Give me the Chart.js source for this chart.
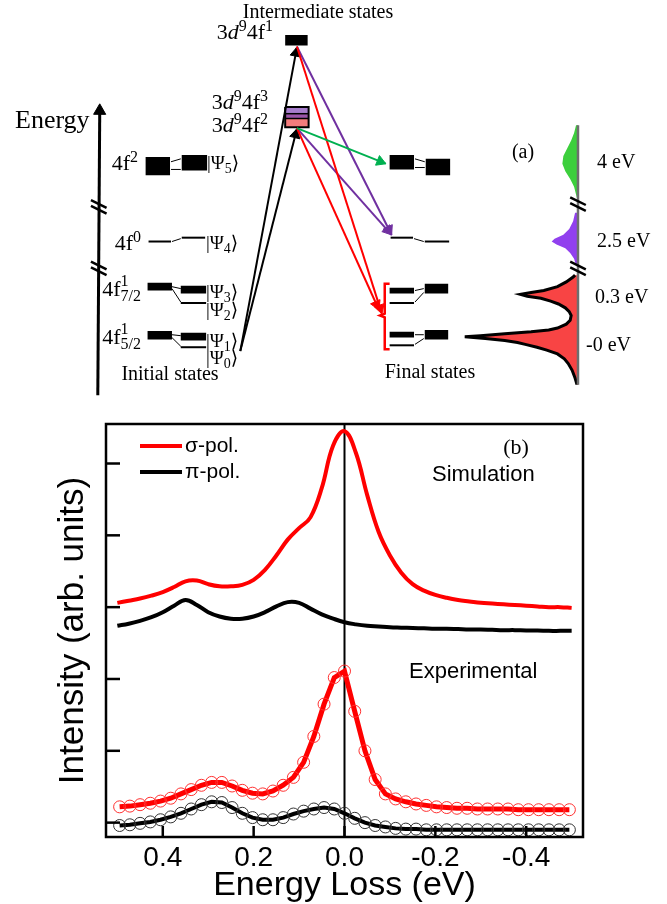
<!DOCTYPE html>
<html>
<head>
<meta charset="utf-8">
<script src="https://cdn.jsdelivr.net/npm/chart.js@4.4.0/dist/chart.umd.min.js"></script>
<style>
html, body { margin: 0; padding: 0; background: #fff; }
#wrap { position: relative; width: 667px; height: 904px; }
#diagram { position: absolute; left: 0; top: 0; }
#spectra { position: absolute; left: 0; top: 410px; }
</style>
</head>
<body>
<div id="wrap">
  <canvas id="diagram" width="667" height="410"></canvas>
  <canvas id="spectra" width="667" height="494"></canvas>
</div>
<script>
// ---------- panel (b): RIXS spectra ----------
const simEnergy = [0.5, 0.475, 0.45, 0.425, 0.4, 0.375, 0.35, 0.325, 0.3, 0.275, 0.25, 0.225, 0.2, 0.175, 0.15, 0.125, 0.1, 0.075, 0.05, 0.025, 0,
  -0.025, -0.05, -0.075, -0.1, -0.125, -0.15, -0.175, -0.2, -0.225, -0.25, -0.275, -0.3, -0.325, -0.35, -0.375, -0.4, -0.425, -0.45, -0.475, -0.5];
const simSigma = [3.06, 3.09, 3.12, 3.16, 3.21, 3.28, 3.36, 3.37, 3.32, 3.29, 3.29, 3.31, 3.38, 3.52, 3.72, 3.94, 4.10, 4.25, 4.66, 5.25, 5.45,
  5.15, 4.56, 4.05, 3.72, 3.48, 3.32, 3.23, 3.17, 3.13, 3.10, 3.08, 3.06, 3.05, 3.04, 3.03, 3.02, 3.01, 3.00, 3.00, 2.99];
const simPi = [2.74, 2.77, 2.81, 2.86, 2.93, 3.02, 3.10, 3.03, 2.93, 2.87, 2.84, 2.84, 2.87, 2.93, 3.01, 3.07, 3.06, 2.98, 2.90, 2.84, 2.79,
  2.76, 2.74, 2.73, 2.72, 2.715, 2.71, 2.705, 2.70, 2.70, 2.695, 2.69, 2.69, 2.685, 2.68, 2.68, 2.675, 2.675, 2.67, 2.67, 2.67];

const expEnergy = [0.495, 0.4725, 0.45, 0.4275, 0.405, 0.3825, 0.36, 0.3375, 0.315, 0.2925, 0.27, 0.2475, 0.225, 0.2025, 0.18, 0.1575,
  0.135, 0.1125, 0.09, 0.0675, 0.045, 0.0225, 0, -0.0225, -0.045, -0.0675, -0.09, -0.1125, -0.135, -0.1575, -0.18, -0.2025, -0.225,
  -0.2475, -0.27, -0.2925, -0.315, -0.3375, -0.36, -0.3825, -0.405, -0.4275, -0.45, -0.4725, -0.495];
const expSigma = [0.22, 0.23, 0.25, 0.27, 0.30, 0.34, 0.40, 0.46, 0.52, 0.56, 0.56, 0.51, 0.45, 0.41, 0.40, 0.44,
  0.52, 0.63, 0.84, 1.20, 1.65, 2.02, 2.11, 1.55, 1.00, 0.60, 0.40, 0.33, 0.29, 0.26, 0.24, 0.22, 0.21,
  0.20, 0.20, 0.19, 0.19, 0.19, 0.19, 0.18, 0.18, 0.18, 0.18, 0.18, 0.18];
const expPi = [-0.04, -0.03, -0.01, 0.01, 0.04, 0.08, 0.13, 0.19, 0.25, 0.29, 0.28, 0.21, 0.13, 0.07, 0.04, 0.04,
  0.07, 0.12, 0.16, 0.19, 0.21, 0.19, 0.13, 0.06, 0.00, -0.04, -0.06, -0.08, -0.09, -0.09, -0.10, -0.10, -0.10,
  -0.10, -0.10, -0.10, -0.10, -0.10, -0.10, -0.10, -0.10, -0.10, -0.10, -0.10, -0.10];

const xTickValues = [0.4, 0.2, 0, -0.2, -0.4];
const yTickValues = [0, 1, 2, 3, 4, 5];
const seriesNames = ['σ-pol.', 'π-pol.'];

// ---------- panel (a): level scheme (pixel units of the upper panel) ----------
const levelBoxes = [
  [141, 155, 166, 174], [178, 153, 204, 169],
  [143, 286, 168, 294], [177, 289, 203, 297],
  [143, 336, 168, 345], [177, 338, 203, 346],
  [391, 153, 416, 168], [428, 157, 453, 174],
  [391, 291, 416, 297], [427, 287, 451, 297],
  [391, 337, 416, 343], [427, 335, 451, 345],
  [284, 28, 307, 39]
];
const thinLevels = [
  [144, 243, 167, 243], [178, 239, 202, 239],
  [177, 307, 203, 307], [177, 353, 203, 353],
  [392, 239, 415, 239], [427, 243, 452, 243],
  [391, 307, 416, 307], [391, 351, 416, 351]
];
const connectors = [
  [167, 160, 177, 157], [167, 168, 177, 168],
  [168, 243, 177, 240],
  [168, 290, 177, 292], [168, 292, 177, 306],
  [168, 340, 177, 341], [168, 343, 177, 352],
  [417, 157, 427, 160], [417, 166, 427, 166],
  [416, 240, 426, 243],
  [417, 294, 426, 292], [417, 306, 426, 296],
  [417, 340, 426, 340], [417, 350, 426, 344]
];
const midBox = [284, 103, 308, 124];
const midBands = [[103, 110], [110, 115], [115, 124]];
const midBandColors = ['#a77dcc', '#9b55a8', '#f47c7c'];

const arrows = [
  [238, 357, 296, 41], [238, 357, 296, 126],
  [296, 40, 393, 236], [296, 125, 393, 236],
  [296, 40, 383, 318], [296, 125, 380, 314],
  [296, 125, 387, 162]
];
const arrowColors = ['#000', '#000', '#7030a0', '#7030a0', '#ff0000', '#ff0000', '#00b050'];
const energyAxis = [92, 403, 94, 100];
const bracket = [[391, 287], [386, 287], [386, 318], [381, 320], [386, 322], [386, 355], [391, 355]];
const axisBreaks = [[93, 208], [93, 272], [584, 205], [584, 272]];

// schematic spectrum at right: profile width (px) at each height
const specAxis = [584, 122, 584, 392];
const greenY = [122, 130, 138, 146, 154, 162, 170, 178, 186, 194, 202];
const greenW = [2, 4, 7, 11, 15, 16, 13, 8, 4, 2, 0];
const purpleY = [213, 222, 230, 236, 240, 243, 246, 250, 255, 261, 268];
const purpleW = [3, 5, 9, 15, 24, 27, 22, 13, 8, 4, 2];
const redY = [278, 280, 285, 290, 294, 296, 298, 300, 302, 305, 308, 312, 316, 320, 325, 329, 333, 335, 337, 339, 341, 342,
  344, 346, 348, 350, 353, 356, 360, 365, 370, 377, 385, 392];
const redW = [3, 5, 12, 21, 35, 48, 59, 52, 38, 28, 20, 13, 9, 7, 8, 12, 21, 30, 48, 75, 100, 116,
  95, 75, 62, 54, 42, 32, 21, 14, 10, 6, 3, 1];

const diagramLabels = [
  ['Intermediate states', 318, 13, 20, 'center'],
  ['3<i>d</i><sup>9</sup>4f<sup>1</sup>', 273, 33, 22, 'right'],
  ['3<i>d</i><sup>9</sup>4f<sup>3</sup>', 268, 103, 22, 'right'],
  ['3<i>d</i><sup>9</sup>4f<sup>2</sup>', 268, 126, 22, 'right'],
  ['Energy', 15, 121, 26, 'left'],
  ['4f<sup>2</sup>', 138, 164, 22, 'right'],
  ['|Ψ<sub>5</sub>⟩', 207, 164, 19, 'left'],
  ['4f<sup>0</sup>', 141, 244, 22, 'right'],
  ['|Ψ<sub>4</sub>⟩', 206, 244, 19, 'left'],
  ['4f<ss>1|7/2</ss>', 141, 290, 22, 'right'],
  ['|Ψ<sub>3</sub>⟩', 206, 293, 19, 'left'],
  ['|Ψ<sub>2</sub>⟩', 206, 311, 19, 'left'],
  ['4f<ss>1|5/2</ss>', 141, 338, 22, 'right'],
  ['|Ψ<sub>1</sub>⟩', 206, 342, 19, 'left'],
  ['|Ψ<sub>0</sub>⟩', 206, 359, 19, 'left'],
  ['Initial states', 170, 375, 20, 'center'],
  ['Final states', 430, 373, 20, 'center'],
  ['(a)', 523, 153, 20, 'center'],
  ['4 eV', 597, 163, 20, 'left'],
  ['2.5 eV', 597, 242, 20, 'left'],
  ['0.3 eV', 595, 298, 20, 'left'],
  ['-0 eV', 586, 346, 20, 'left']
];

const pts = (xs, ys) => xs.map((x, i) => ({ x: x, y: ys[i] }));

// rich text with italic / superscript / subscript runs
function drawRich(ctx, markup, x, y, size, align) {
  const re = /<(i|sup|sub|ss)>(.*?)<\/\1>|([^<]+)/g;
  const runs = [];
  let m;
  while ((m = re.exec(markup))) runs.push(m[3] !== undefined ? { k: 'n', t: m[3] } : { k: m[1], t: m[2] });
  const fam = '"Liberation Serif", "DejaVu Serif", serif';
  const font = (s, it) => (it ? 'italic ' : '') + s + 'px ' + fam;
  const small = Math.round(size * 0.72);
  let w = 0;
  runs.forEach(r => {
    if (r.k === 'ss') {
      const [a, b] = r.t.split('|');
      ctx.font = font(small);
      r.w = Math.max(ctx.measureText(a).width, ctx.measureText(b).width);
    } else {
      ctx.font = r.k === 'sup' || r.k === 'sub' ? font(small) : font(size, r.k === 'i');
      r.w = ctx.measureText(r.t).width;
    }
    w += r.w;
  });
  let cx = align === 'right' ? x - w : align === 'center' ? x - w / 2 : x;
  ctx.textAlign = 'left';
  ctx.textBaseline = 'middle';
  runs.forEach(r => {
    if (r.k === 'ss') {
      const [a, b] = r.t.split('|');
      ctx.font = font(small);
      ctx.fillText(a, cx, y - size * 0.36);
      ctx.fillText(b, cx, y + size * 0.32);
    } else if (r.k === 'sup') {
      ctx.font = font(small);
      ctx.fillText(r.t, cx, y - size * 0.3);
    } else if (r.k === 'sub') {
      ctx.font = font(small);
      ctx.fillText(r.t, cx, y + size * 0.26);
    } else {
      ctx.font = font(size, r.k === 'i');
      ctx.fillText(r.t, cx, y);
    }
    cx += r.w;
  });
}

// ---------- build panel (a) datasets (bottom layer first) ----------
const ds = [];
function seg(x1, y1, x2, y2, color, w) {
  ds.push({ data: [{ x: x1, y: y1 }, { x: x2, y: y2 }], borderColor: color, borderWidth: w,
    pointRadius: 0, borderCapStyle: 'butt', fill: false });
}
function poly(p, color) {
  ds.push({ data: p.map(([x, y]) => ({ x: x, y: y })), fill: 'shape', backgroundColor: color,
    borderColor: 'rgba(0,0,0,0)', borderWidth: 1, pointRadius: 0 });
}
function head(x1, y1, x2, y2, color, r) {
  const len = Math.hypot(x2 - x1, y2 - y1);
  const ux = (x2 - x1) / len, uy = (y2 - y1) / len;
  ds.push({ data: [{ x: x2 - ux * r, y: y2 - uy * r }], showLine: false, pointStyle: 'triangle',
    pointRadius: r, pointRotation: Math.atan2(ux, -uy) * 180 / Math.PI,
    pointBackgroundColor: color, pointBorderColor: color, pointBorderWidth: 1 });
}
const rect = (b) => [[b[0], b[1]], [b[2], b[1]], [b[2], b[3]], [b[0], b[3]], [b[0], b[1]]];

// spectrum fills
[[greenY, greenW, '#3ccf3c'], [purpleY, purpleW, '#9140ee'], [redY, redW, '#f84444']].forEach(([ys, ws, c]) => {
  const p = ys.map((y, i) => [specAxis[0] - ws[i], y]);
  p.push([specAxis[0], ys[ys.length - 1]], [specAxis[0], ys[0]]);
  poly(p, c);
});
ds.push({ data: pts(redY.map((y, i) => specAxis[0] - redW[i]), redY), borderColor: '#000', borderWidth: 3,
  pointRadius: 0, fill: false });
seg(specAxis[0], specAxis[1], specAxis[2], specAxis[3], '#6e6e6e', 2.5);

// energy axis
seg(energyAxis[0], energyAxis[1], energyAxis[2], energyAxis[3] + 6, '#000', 3);
head(energyAxis[0], energyAxis[1], energyAxis[2], energyAxis[3], '#000', 7);
axisBreaks.forEach(([x, y]) => {
  seg(x - 8, y - 8, x + 8, y + 0, '#000', 2.5);
  seg(x - 8, y - 2, x + 8, y + 6, '#000', 2.5);
});

// levels
levelBoxes.forEach(b => poly(rect(b), '#000'));
thinLevels.forEach(l => seg(l[0], l[1], l[2], l[3], '#000', 2));
connectors.forEach(l => seg(l[0], l[1], l[2], l[3], '#000', 1));
midBands.forEach(([t, b], i) => poly(rect([midBox[0], t, midBox[2], b]), midBandColors[i]));
seg(midBox[0], midBands[1][0], midBox[2], midBands[1][0], '#000', 1.5);
seg(midBox[0], midBands[2][0], midBox[2], midBands[2][0], '#000', 1.5);
ds.push({ data: rect(midBox).map(([x, y]) => ({ x: x, y: y })), borderColor: '#000', borderWidth: 2,
  pointRadius: 0, fill: false });

// bracket
ds.push({ data: bracket.map(([x, y]) => ({ x: x, y: y })), borderColor: '#ff0000', borderWidth: 2.5,
  pointRadius: 0, fill: false });

// transitions
arrows.forEach((a, i) => {
  seg(a[0], a[1], a[2], a[3], arrowColors[i], 2);
  head(a[0], a[1], a[2], a[3], arrowColors[i], 6);
});
ds.reverse();

const diagramText = {
  id: 'diagramText',
  afterDraw(chart) {
    const ctx = chart.ctx;
    ctx.save();
    ctx.fillStyle = '#000';
    diagramLabels.forEach(l => drawRich(ctx, l[0], l[1], l[2], l[3], l[4]));
    ctx.restore();
  }
};

new Chart(document.getElementById('diagram'), {
  type: 'line',
  data: { datasets: ds },
  options: {
    responsive: false,
    animation: false,
    devicePixelRatio: 1,
    events: [],
    layout: { padding: 0 },
    scales: {
      x: { type: 'linear', min: 0, max: 667, display: false },
      y: { type: 'linear', min: 0, max: 410, reverse: true, display: false }
    },
    plugins: { legend: { display: false }, tooltip: { enabled: false } }
  },
  plugins: [diagramText]
});

// ---------- panel (b) chart ----------
const panelB = {
  id: 'panelB',
  afterDraw(chart) {
    const { ctx, chartArea: a, scales: { x, y } } = chart;
    const line = (x1, y1, x2, y2) => { ctx.beginPath(); ctx.moveTo(x1, y1); ctx.lineTo(x2, y2); ctx.stroke(); };
    ctx.save();
    ctx.strokeStyle = '#000';
    ctx.lineWidth = 2.5;
    ctx.strokeRect(a.left, a.top, a.right - a.left, a.bottom - a.top);
    x.ticks.forEach(t => { const px = x.getPixelForValue(t.value); line(px, a.bottom, px, a.bottom - 11); });
    y.ticks.forEach(t => { const py = y.getPixelForValue(t.value); line(a.left, py, a.left + 14, py); });
    // legend inside the frame
    chart.data.datasets.slice(0, 2).forEach((d, i) => {
      const ly = a.top + 22 + i * 26;
      ctx.strokeStyle = d.borderColor;
      ctx.lineWidth = 4;
      line(a.left + 34, ly, a.left + 76, ly);
      ctx.fillStyle = '#000';
      ctx.font = '21px "Liberation Sans"';
      ctx.textAlign = 'left';
      ctx.textBaseline = 'middle';
      ctx.fillText(d.label, a.left + 79, ly);
    });
    ctx.font = '22px "Liberation Serif"';
    ctx.textAlign = 'center';
    ctx.fillText('(b)', 516, a.top + 24);
    ctx.font = '22px "Liberation Sans"';
    ctx.textAlign = 'left';
    ctx.fillText('Simulation', 432, a.top + 51);
    ctx.fillText('Experimental', 409, a.top + 248);
    ctx.restore();
  }
};

new Chart(document.getElementById('spectra'), {
  type: 'line',
  data: {
    datasets: [
      { label: seriesNames[0], data: pts(simEnergy, simSigma), borderColor: '#ff0000', borderWidth: 4,
        pointRadius: 0, tension: 0.4, fill: false },
      { label: seriesNames[1], data: pts(simEnergy, simPi), borderColor: '#000000', borderWidth: 4,
        pointRadius: 0, tension: 0.4, fill: false },
      { label: seriesNames[0] + ' exp', data: pts(expEnergy, expSigma), borderColor: '#ff0000', borderWidth: 5,
        pointRadius: 6, pointBorderWidth: 1, pointBorderColor: '#ff3030', pointBackgroundColor: 'rgba(0,0,0,0)', fill: false },
      { label: seriesNames[1] + ' exp', data: pts(expEnergy, expPi), borderColor: '#000000', borderWidth: 4,
        pointRadius: 6, pointBorderWidth: 1, pointBorderColor: '#333', pointBackgroundColor: 'rgba(0,0,0,0)', fill: false },
      { label: 'zero', data: [{ x: 0, y: -0.2 }, { x: 0, y: 5.55 }], borderColor: '#000', borderWidth: 2,
        pointRadius: 0, fill: false }
    ]
  },
  options: {
    responsive: false,
    animation: false,
    devicePixelRatio: 1,
    events: [],
    layout: { padding: { left: 0, right: 84, top: 14, bottom: 0 } },
    scales: {
      x: {
        type: 'linear', reverse: true, min: -0.525, max: 0.525,
        afterBuildTicks: s => { s.ticks = xTickValues.map(v => ({ value: v })); },
        afterFit: s => { s.height = 67; },
        grid: { display: false, drawTicks: false },
        border: { display: false },
        ticks: { padding: 4, color: '#000', font: { family: 'Liberation Sans', size: 28 },
          callback: v => Math.abs(v) < 1e-9 ? '0.0' : v.toFixed(1) },
        title: { display: true, text: 'Energy Loss (eV)', color: '#000', padding: 0,
          font: { family: 'Liberation Sans', size: 34, lineHeight: 1.1 } }
      },
      y: {
        type: 'linear', min: -0.2, max: 5.55,
        afterBuildTicks: s => { s.ticks = yTickValues.map(v => ({ value: v })); },
        afterFit: s => { s.width = 106; },
        grid: { display: false, drawTicks: false },
        border: { display: false },
        ticks: { display: false },
        title: { display: true, text: 'Intensity (arb. units)', color: '#000', padding: { top: 54, bottom: 0 },
          font: { family: 'Liberation Sans', size: 35, lineHeight: 1.1 } }
      }
    },
    plugins: { legend: { display: false }, tooltip: { enabled: false } }
  },
  plugins: [panelB]
});
</script>
</body>
</html>
